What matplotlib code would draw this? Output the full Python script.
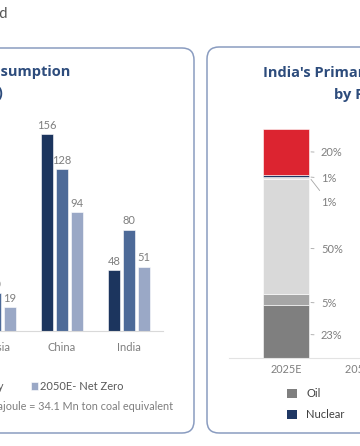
import matplotlib
matplotlib.use("Agg")
import matplotlib.pyplot as plt
from matplotlib.patches import FancyBboxPatch, Patch
import numpy as np

# ---- data ----
regions = ["Russia", "China", "India"]
cons_2023 = [31, 156, 48]
cons_2050_cp = [30, 128, 80]
cons_2050_nz = [19, 94, 51]
cons_series = ["2023", "2050E- Current Policy", "2050E- Net Zero"]

mix_years = ["2025E", "2050E- Net Zero"]
mix_fuels = ["Oil", "Gas", "Coal", "Hydro", "Nuclear", "Renewables"]
mix_share = {
    "Oil":        [23, 12],
    "Gas":        [5, 6],
    "Coal":       [50, 20],
    "Hydro":      [1, 3],
    "Nuclear":    [1, 6],
    "Renewables": [20, 53],
}

# ---- style ----
W, H = 360, 446
plt.rcParams["font.family"] = ["Lato", "DejaVu Sans"]
navy = "#1c355e"
mid = "#4d6a98"
light = "#9aa8c6"
title_col = "#2d4c7c"
grey_txt = "#7f7f7f"
fuel_cols = {"Oil": "#7f7f7f", "Gas": "#a6a6a6", "Coal": "#d9d9d9",
             "Hydro": "#e4e4e4", "Nuclear": "#1f3864", "Renewables": "#dc2430"}


def rect(l, t, w, h):
    # pixel box (from top-left) -> figure fraction
    return [l / W, 1 - (t + h) / H, w / W, h / H]


fig = plt.figure(figsize=(W / 100, H / 100), dpi=100)
fig.patch.set_facecolor("white")

# panel frames
for x0, y0, x1, y1 in [(-150, 48, 194, 433), (207, 47, 600, 433)]:
    fig.add_artist(FancyBboxPatch((x0 / 100, (H - y1) / 100), (x1 - x0) / 100, (y1 - y0) / 100,
                                  boxstyle="round,pad=0,rounding_size=0.12",
                                  transform=fig.dpi_scale_trans, fill=False,
                                  ec="#8a9cc0", lw=1.1))

fig.text(7 / W, 1 - 14 / H, "Energy Demand", ha="right", va="center",
         fontsize=10.5, color="#555555")

# ---- left: consumption ----
ax = fig.add_axes(rect(-80, 110, 243, 221))
x = np.arange(len(regions))
bw, step = 12 / 67, 15 / 67
for i, (vals, col) in enumerate(zip([cons_2023, cons_2050_cp, cons_2050_nz], [navy, mid, light])):
    bars = ax.bar(x + (i - 1) * step, vals, bw, color=col, edgecolor="white", lw=0.4,
                  label=cons_series[i])
    for b, v in zip(bars, vals):
        ax.annotate(str(v), (b.get_x() + b.get_width() / 2, v), xytext=(0, 2.5),
                    textcoords="offset points", ha="center", va="bottom",
                    fontsize=8, color=grey_txt)
ax.set_xlim(2 - 209 / 67, 2 + 34 / 67)
ax.set_ylim(0, 175)
ax.set_xticks(x, regions)
ax.tick_params(axis="x", length=0, pad=8, labelsize=8, labelcolor=grey_txt)
ax.set_yticks([])
for s in ["top", "right", "left"]:
    ax.spines[s].set_visible(False)
ax.spines["bottom"].set_color("#d9d9d9")
ax.patch.set_alpha(0)

fig.legend(*ax.get_legend_handles_labels(), loc="center right",
           bbox_to_anchor=(124 / W, 1 - 386 / H), ncol=3, frameon=False,
           borderpad=0, borderaxespad=0, handlelength=0.7, handleheight=0.7,
           handletextpad=0.2, columnspacing=2.4, fontsize=8, labelcolor="#595959")

fig.text(70 / W, 1 - 72 / H, "Primary Energy Consumption", ha="right", va="center",
         fontsize=10.5, fontweight="bold", color=title_col, family="Open Sans")
fig.text(3 / W, 1 - 93 / H, "(Exajoule)", ha="right", va="center",
         fontsize=10.5, fontweight="bold", color=title_col, family="Open Sans")
fig.text(173 / W, 1 - 407 / H, "Note: 1 Exajoule = 34.1 Mn ton coal equivalent",
         ha="right", va="center", fontsize=7.8, color=grey_txt)

# ---- right: energy mix ----
unit = 100  # px between the two year bars
ax2 = fig.add_axes(rect(229, 129, 300, 229))
xm = np.arange(len(mix_years))
mw = 46 / unit
bottom = np.zeros(len(mix_years))
handles = {}
seg = []
for f in mix_fuels:
    vals = np.array(mix_share[f], dtype=float)
    ax2.bar(xm, vals, mw, bottom=bottom, color=fuel_cols[f], edgecolor="white", lw=0.4)
    seg.append((bottom[0], bottom[0] + vals[0], vals[0]))
    handles[f] = Patch(facecolor=fuel_cols[f], edgecolor="none")
    bottom += vals

# data labels for 2025E with leader lines
label_shift = [-1.3, -1.3, -5.2, -10, -0.8, 0]
for (lo, hi, v), dy in zip(seg, label_shift):
    ly = (lo + hi) / 2 + dy
    ay = min(max(ly, lo), hi)
    ax2.annotate(f"{v:.0f}%", (mw / 2 + 2 / unit, ay), xytext=(35 / unit, ly),
                 ha="left", va="center_baseline", fontsize=8, color=grey_txt,
                 arrowprops=dict(arrowstyle="-", color="#a6a6a6", lw=0.6,
                                 shrinkA=3, shrinkB=0))
ax2.set_xlim(-57 / unit, 243 / unit)
ax2.set_ylim(0, 100)
ax2.set_xticks(xm, mix_years)
ax2.tick_params(axis="x", length=0, pad=4, labelsize=7.8, labelcolor=grey_txt)
ax2.set_yticks([])
for s in ["top", "right", "left"]:
    ax2.spines[s].set_visible(False)
ax2.spines["bottom"].set_color("#e3e3e3")
ax2.patch.set_alpha(0)

order = ["Oil", "Nuclear", "Gas", "Hydro", "Coal", "Renewables"]
fig.legend([handles[k] for k in order], order, loc="upper left",
           bbox_to_anchor=(287 / W, 1 - 388 / H), ncol=3, frameon=False,
           borderpad=0, borderaxespad=0, handlelength=0.9, handleheight=0.9,
           handletextpad=0.85, labelspacing=0.9, columnspacing=2.5,
           fontsize=8, labelcolor="#404040")

fig.text(263 / W, 1 - 73 / H, "India's Primary Energy Mix", ha="left", va="center",
         fontsize=10.5, fontweight="bold", color=title_col, family="Open Sans")
fig.text(334 / W, 1 - 95 / H, "by Fuel", ha="left", va="center",
         fontsize=10.5, fontweight="bold", color=title_col, family="Open Sans")

fig.savefig("out.png", dpi=100)
